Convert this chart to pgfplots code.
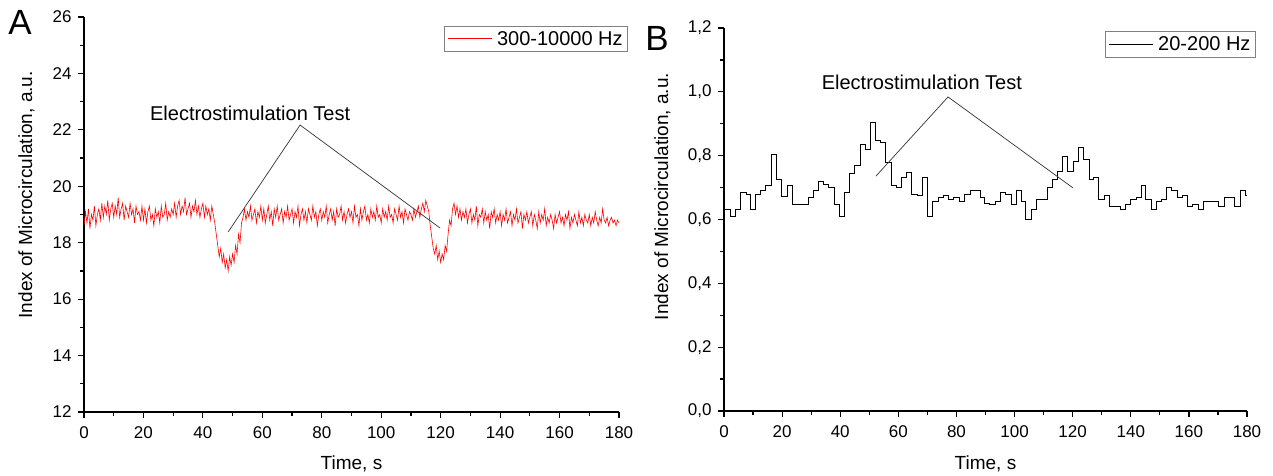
\documentclass[border=0pt]{standalone}
\usepackage{fontspec}
\setmainfont{Liberation Sans}
\usepackage{pgfplots}
\pgfplotsset{compat=1.18}
\pgfplotsset{
  myaxis/.style={
    scale only axis,
    axis x line*=bottom, axis y line*=left,
    axis line style={line width=1.2pt, -},
    every tick/.style={line width=1.2pt, black},
    tick align=outside,
    major tick length=6pt, minor tick length=4pt,
    minor x tick num=1, minor y tick num=1,
    xmin=0, xmax=180, xtick={0,20,...,180},
    tick label style={font=\fontsize{17}{20}\selectfont},
    xticklabel shift=5pt, yticklabel shift=3pt,
    label style={font=\fontsize{19}{23}\selectfont},
    /pgf/number format/assume math mode=true,
    legend style={draw=gray, line width=0.8pt, font=\fontsize{20}{24}\selectfont,
      inner xsep=3pt, inner ysep=3pt, cells={anchor=west}},
    legend image code/.code={\draw[#1, line width=1pt] (0pt,0pt) -- (44pt,0pt); \path (47pt,0pt);},
    xlabel={Time, s},
    ylabel={Index of Microcirculation, a.u.},
  }
}
\begin{document}
\begin{tikzpicture}
\begin{axis}[myaxis,
  at={(0pt,0pt)}, anchor=south west,
  width=535pt, height=395pt,
  ymin=12, ymax=26, ytick={12,14,...,26},
  xlabel style={at={(axis description cs:0.5,0)}, anchor=base, yshift=-57pt},
  ylabel style={at={(axis description cs:-0.097,0.55)}, anchor=base, rotate=0},
  legend style={at={(1.017,0.978)}, anchor=north east},
]
\addplot[red, line width=0.6pt] table[x expr=\coordindex*0.5, y index=0, row sep=\\] {
v\\
18.6\\ 19.1\\ 18.7\\ 19.2\\ 18.5\\ 19.0\\ 18.8\\ 19.3\\ 18.6\\ 19.0\\ 19.2\\ 18.8\\ 19.4\\ 18.9\\ 19.3\\ 19.0\\ 19.5\\ 18.8\\ 19.2\\ 19.4\\
18.9\\ 19.3\\ 19.0\\ 19.6\\ 18.9\\ 19.2\\ 19.4\\ 18.8\\ 19.3\\ 19.1\\ 18.9\\ 19.4\\ 19.0\\ 19.2\\ 18.7\\ 19.3\\ 19.0\\ 19.1\\ 18.8\\ 19.3\\
18.8\\ 19.2\\ 18.7\\ 19.1\\ 19.3\\ 18.8\\ 19.0\\ 18.6\\ 19.2\\ 18.9\\ 19.1\\ 18.7\\ 19.3\\ 18.9\\ 19.0\\ 19.4\\ 18.8\\ 19.1\\ 18.9\\ 19.2\\
19.0\\ 19.4\\ 18.9\\ 19.3\\ 19.5\\ 19.0\\ 19.3\\ 19.1\\ 19.6\\ 19.0\\ 19.2\\ 19.4\\ 18.9\\ 19.3\\ 19.1\\ 19.5\\ 19.0\\ 19.3\\ 18.9\\ 19.2\\
19.4\\ 18.9\\ 19.3\\ 19.0\\ 19.2\\ 18.8\\ 19.3\\ 19.0\\ 18.7\\ 18.3\\ 17.9\\ 17.5\\ 17.8\\ 17.3\\ 17.6\\ 17.1\\ 17.4\\ 17.0\\ 17.5\\ 17.2\\
17.6\\ 17.3\\ 17.9\\ 17.6\\ 18.3\\ 18.0\\ 18.7\\ 18.9\\ 19.2\\ 18.8\\ 19.1\\ 18.9\\ 19.3\\ 18.8\\ 19.0\\ 19.2\\ 18.7\\ 19.1\\ 18.9\\ 19.3\\
18.8\\ 19.2\\ 18.7\\ 19.0\\ 19.3\\ 18.8\\ 19.1\\ 18.6\\ 19.2\\ 18.9\\ 19.3\\ 18.8\\ 19.0\\ 19.2\\ 18.7\\ 19.1\\ 18.9\\ 19.3\\ 18.8\\ 19.0\\
19.2\\ 18.7\\ 19.1\\ 18.9\\ 19.3\\ 18.6\\ 19.0\\ 19.2\\ 18.8\\ 19.1\\ 18.7\\ 19.2\\ 19.0\\ 18.8\\ 19.3\\ 18.9\\ 19.1\\ 18.6\\ 19.0\\ 19.2\\
18.8\\ 19.1\\ 18.9\\ 19.3\\ 18.7\\ 19.0\\ 19.2\\ 18.8\\ 19.1\\ 18.6\\ 19.2\\ 18.9\\ 19.0\\ 19.3\\ 18.8\\ 19.1\\ 18.7\\ 19.0\\ 19.2\\ 18.9\\
19.1\\ 18.7\\ 19.3\\ 18.9\\ 19.0\\ 18.6\\ 19.2\\ 18.8\\ 19.1\\ 19.3\\ 18.8\\ 19.0\\ 18.7\\ 19.2\\ 18.9\\ 19.1\\ 18.8\\ 19.3\\ 18.9\\ 19.0\\
18.7\\ 19.2\\ 18.9\\ 19.1\\ 18.8\\ 19.3\\ 18.9\\ 19.0\\ 18.7\\ 19.2\\ 19.0\\ 18.8\\ 19.3\\ 18.9\\ 19.1\\ 18.7\\ 19.2\\ 19.0\\ 18.8\\ 19.1\\
19.0\\ 18.8\\ 19.2\\ 18.9\\ 19.1\\ 19.3\\ 18.9\\ 19.2\\ 19.4\\ 19.1\\ 19.5\\ 19.3\\ 19.1\\ 18.6\\ 18.2\\ 17.8\\ 17.6\\ 17.9\\ 17.4\\ 17.7\\
17.3\\ 17.6\\ 17.4\\ 17.9\\ 17.7\\ 18.3\\ 18.8\\ 18.6\\ 19.2\\ 19.4\\ 19.0\\ 19.3\\ 18.9\\ 19.2\\ 18.8\\ 19.1\\ 18.9\\ 19.2\\ 18.7\\ 19.0\\
19.2\\ 18.7\\ 19.0\\ 18.8\\ 19.3\\ 18.6\\ 19.0\\ 18.9\\ 19.2\\ 18.7\\ 19.1\\ 18.8\\ 19.0\\ 18.5\\ 19.1\\ 18.9\\ 19.2\\ 18.7\\ 19.0\\ 18.8\\
19.1\\ 18.6\\ 19.0\\ 18.8\\ 19.2\\ 18.7\\ 18.9\\ 19.1\\ 18.6\\ 19.0\\ 18.8\\ 19.2\\ 18.7\\ 18.9\\ 19.1\\ 18.5\\ 19.0\\ 18.8\\ 19.1\\ 18.7\\
18.9\\ 19.1\\ 18.6\\ 19.0\\ 18.8\\ 18.5\\ 19.1\\ 18.7\\ 19.0\\ 18.8\\ 19.2\\ 18.6\\ 18.9\\ 18.7\\ 19.0\\ 18.8\\ 18.5\\ 19.0\\ 18.7\\ 18.9\\
19.1\\ 18.7\\ 18.9\\ 18.6\\ 19.0\\ 18.8\\ 19.1\\ 18.5\\ 18.9\\ 18.7\\ 19.0\\ 18.8\\ 18.6\\ 19.1\\ 18.7\\ 18.9\\ 18.6\\ 19.0\\ 18.8\\ 18.7\\
19.0\\ 18.6\\ 18.9\\ 18.7\\ 19.1\\ 18.8\\ 18.6\\ 18.9\\ 18.7\\ 19.2\\ 18.8\\ 18.7\\ 18.9\\ 18.6\\ 18.8\\ 18.9\\ 18.7\\ 18.8\\ 18.6\\ 18.8\\ 18.7\\
};
\addlegendentry{300-10000 Hz}
\addplot[black!80, line width=0.7pt, forget plot] coordinates {(48.5,18.38) (72.7,22.17) (119.8,18.52)};
\node[font=\fontsize{20}{24}\selectfont] at (axis cs:55.9,22.6) {Electrostimulation Test};
\end{axis}

\begin{axis}[myaxis,
  at={(640pt,1pt)}, anchor=south west,
  width=523pt, height=383pt,
  ymin=0, ymax=1.2, ytick={0,0.2,...,1.2},
  yticklabel style={/pgf/number format/.cd, fixed, fixed zerofill, precision=1, use comma},
  xlabel style={at={(axis description cs:0.5,0)}, anchor=base, yshift=-58pt},
  ylabel style={at={(axis description cs:-0.107,0.56)}, anchor=base, rotate=0},
  legend style={at={(1.017,0.992)}, anchor=north east},
]
\addplot[black, line width=0.9pt, const plot] coordinates {
(0,0.632) (2.06,0.611) (3.79,0.632) (5.74,0.685) (7.57,0.679) (9.18,0.632) (10.9,0.680) (12.6,0.692)
(14.3,0.708) (16.4,0.805) (18.1,0.724) (19.8,0.671) (21.8,0.708) (23.6,0.646) (29.0,0.670) (30.7,0.692)
(32.5,0.718) (34.2,0.711) (35.9,0.700) (37.9,0.647) (39.6,0.611) (41.4,0.685) (43.1,0.745) (44.8,0.769)
(46.8,0.835) (48.8,0.818) (50.5,0.903) (52.2,0.847) (53.9,0.842) (55.6,0.778) (57.5,0.706) (59.4,0.700)
(61.2,0.731) (62.9,0.747) (64.6,0.680) (66.5,0.676) (68.2,0.731) (70.0,0.611) (71.8,0.656) (73.7,0.670)
(75.5,0.676) (77.2,0.662) (78.9,0.670) (80.9,0.656) (82.7,0.680) (84.7,0.692) (88.1,0.670) (89.8,0.650)
(91.5,0.648) (93.3,0.656) (95.2,0.685) (97.0,0.680) (98.8,0.648) (100.5,0.692) (102.2,0.656) (103.9,0.601)
(105.9,0.632) (107.6,0.662) (111.3,0.700) (113.1,0.724) (114.8,0.750) (116.6,0.797) (118.3,0.749) (120.2,0.781)
(121.9,0.826) (123.6,0.788) (125.6,0.724) (127.3,0.731) (129.0,0.662) (131.1,0.676) (132.8,0.640) (136.3,0.632)
(138.2,0.647) (140.0,0.662) (141.8,0.670) (143.5,0.706) (145.2,0.662) (147.0,0.632) (148.9,0.656) (150.6,0.662)
(152.3,0.700) (154.1,0.692) (156.0,0.670) (157.7,0.676) (159.4,0.640) (161.3,0.647) (163.2,0.632) (164.9,0.656)
(170.3,0.640) (172.2,0.670) (174.1,0.670) (175.8,0.640) (177.6,0.692) (179.3,0.676) (180,0.676)
};
\addlegendentry{20-200 Hz}
\addplot[black!80, line width=0.7pt, forget plot] coordinates {(52.3,0.736) (77.1,0.984) (120.1,0.699)};
\node[font=\fontsize{20}{24}\selectfont] at (axis cs:68.1,1.031) {Electrostimulation Test};
\end{axis}

\node[font=\fontsize{35}{40}\selectfont] at (-64pt,390pt) {A};
\node[font=\fontsize{35}{40}\selectfont] at (573pt,374pt) {B};
\pgfresetboundingbox
\path (-84pt,-64pt) rectangle (1189pt,412pt);
\end{tikzpicture}
\end{document}
